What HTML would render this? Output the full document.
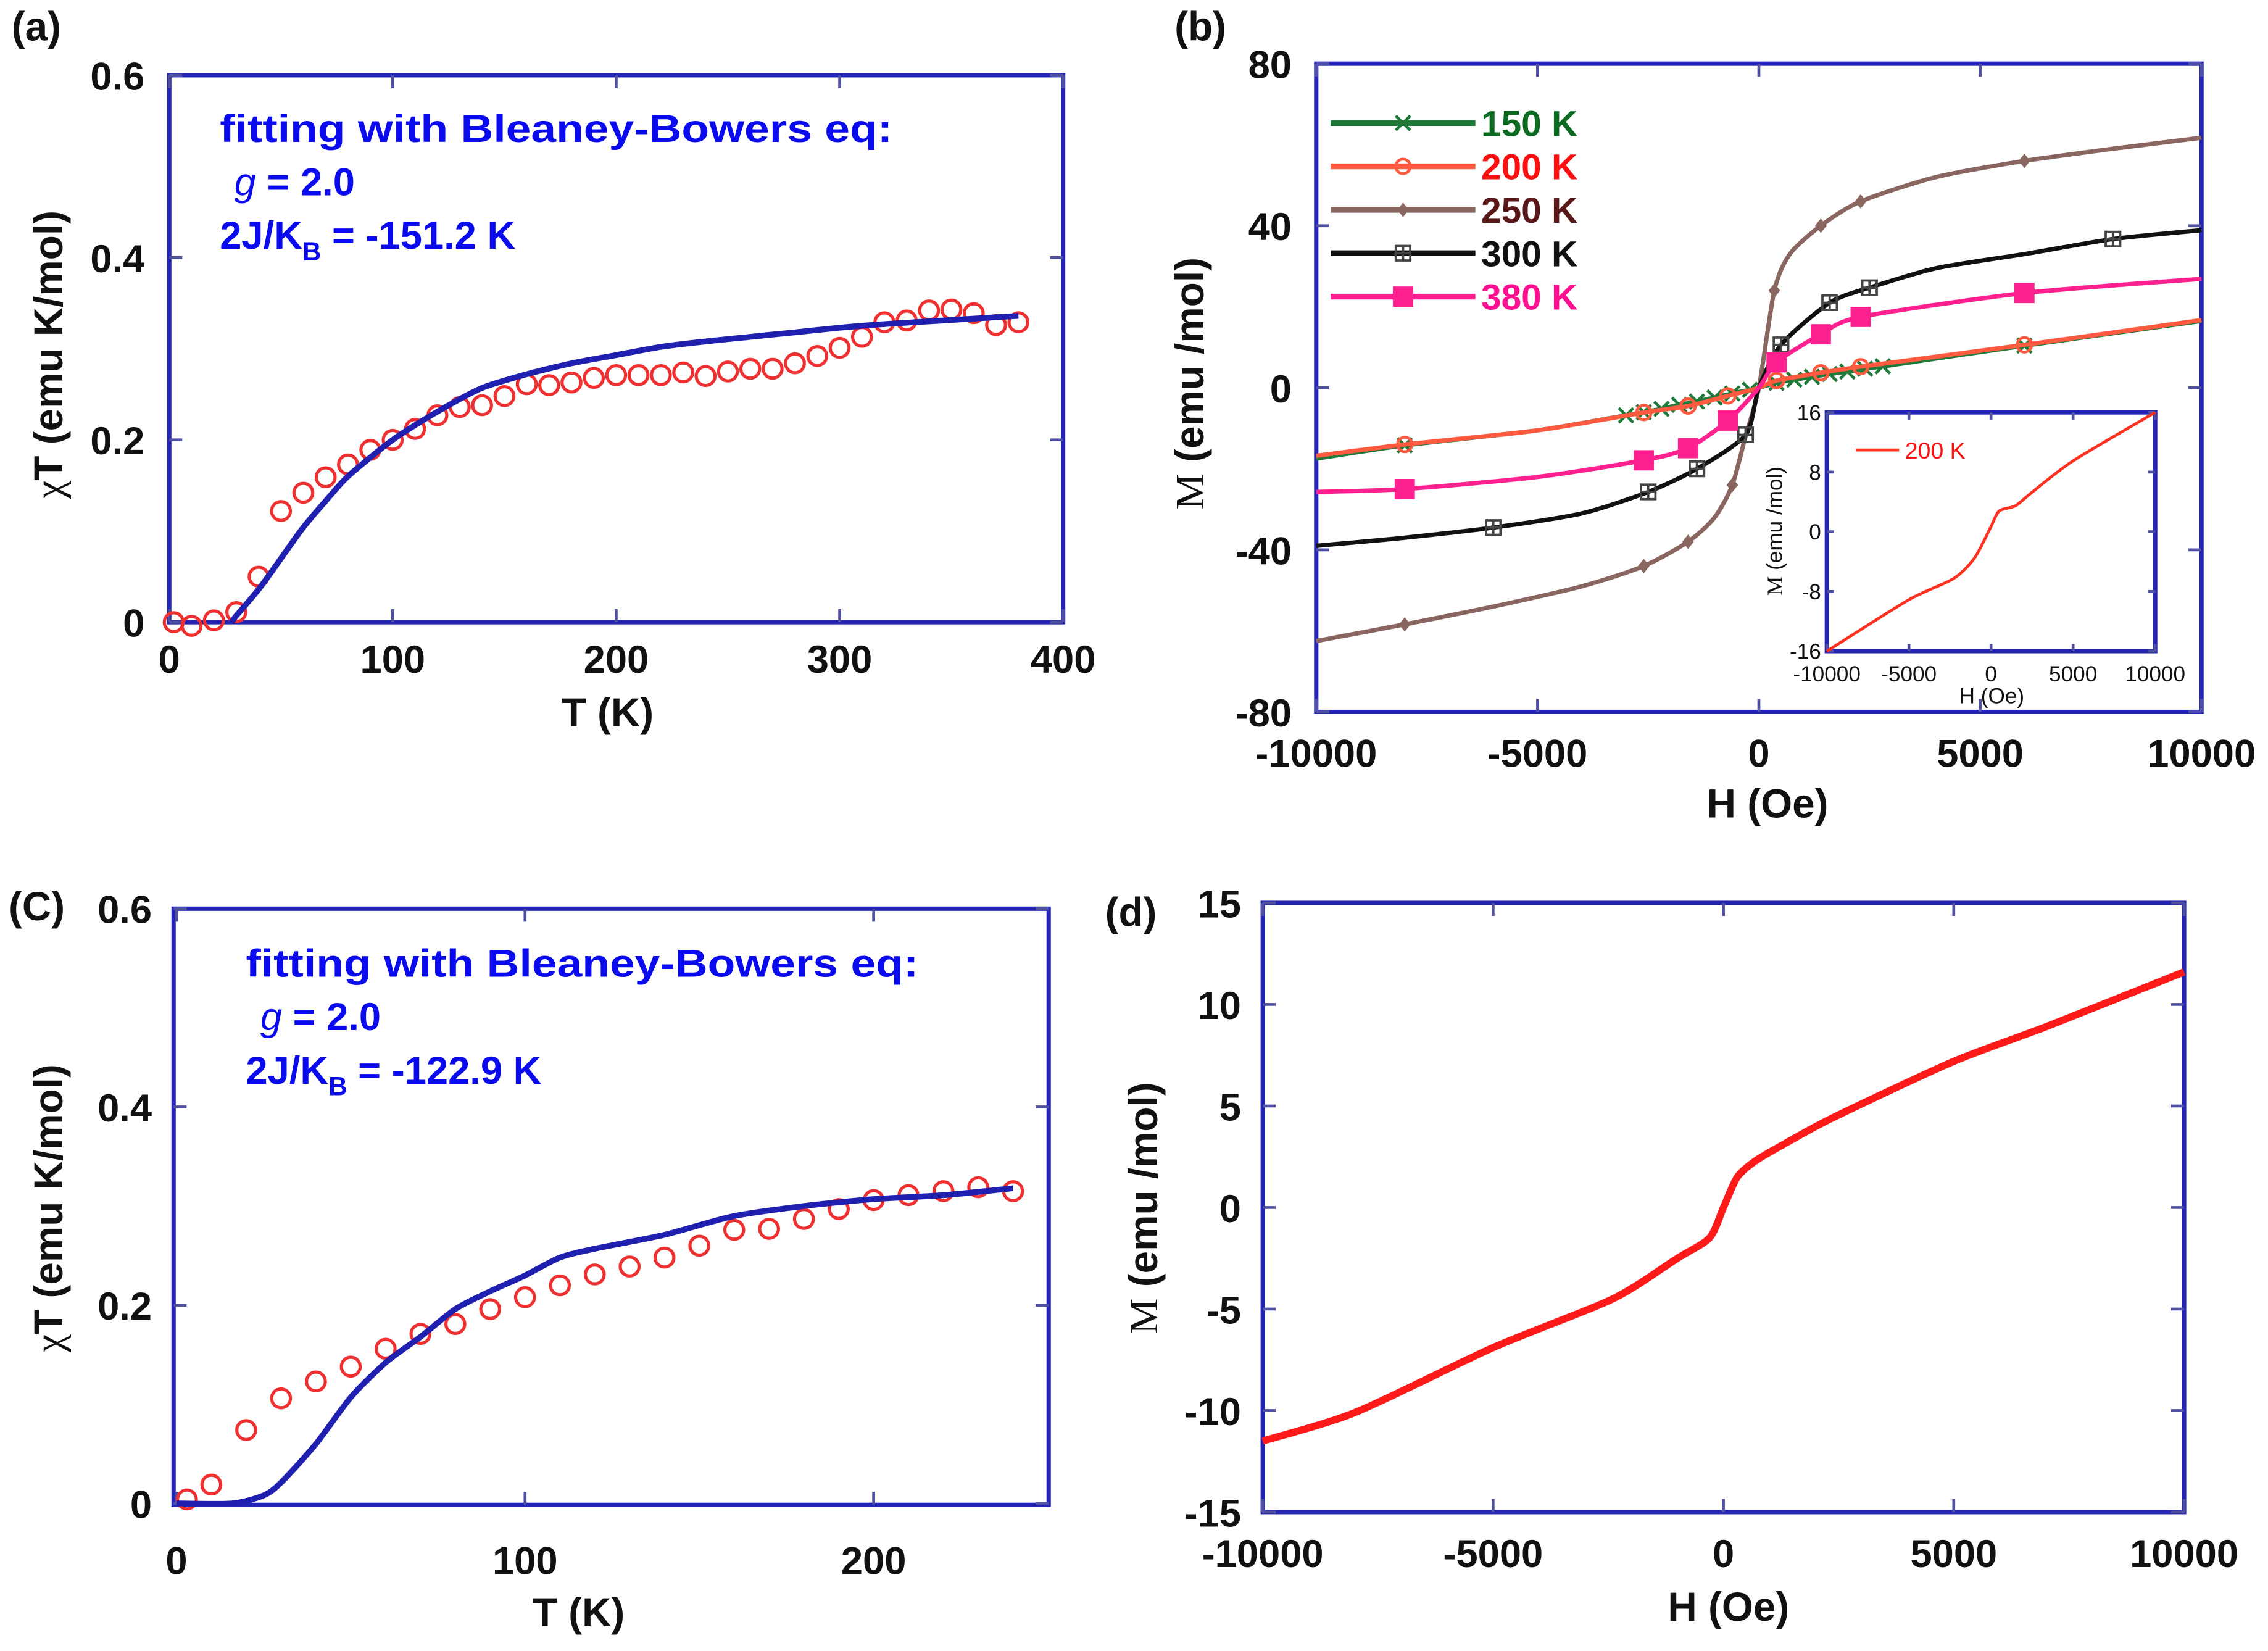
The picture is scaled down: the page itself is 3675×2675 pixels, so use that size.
<!DOCTYPE html>
<html><head><meta charset="utf-8"><style>
html,body{margin:0;padding:0;background:#fff;}
svg{display:block;font-family:"Liberation Sans",sans-serif;}
.t{font-weight:bold;font-size:27px;fill:#111;}
.ax{font-weight:bold;font-size:28px;fill:#111;}
.ann{font-weight:bold;font-size:27px;fill:#0a0aee;}
.box{fill:none;stroke:#2323b4;stroke-width:3;}
.tk{stroke:#5050a0;stroke-width:2;}
</style></head><body>
<svg id="fig" xmlns="http://www.w3.org/2000/svg" width="3675" height="2675" viewBox="0 0 1568 1141" preserveAspectRatio="none">
<g id="pa"></g>
<g id="pb"></g>
<g id="pc"></g>
<g id="pd"></g>
</svg>
<script>
// Panel a data
const aT = [2,10,20,30,40,50,60,70,80,90,100,110,120,130,140,150,160,170,180,190,200,210,220,230,240,250,260,270,280,290,300,310,320,330,340,350,360,370,380];
const aChi = [0,-0.004,0.002,0.011,0.05,0.122,0.142,0.159,0.173,0.189,0.2,0.212,0.227,0.236,0.238,0.248,0.261,0.26,0.263,0.268,0.271,0.271,0.271,0.274,0.27,0.275,0.278,0.278,0.284,0.292,0.301,0.313,0.329,0.331,0.342,0.343,0.339,0.326,0.329];
const aFitT = [28,30,40,50,60,70,80,100,120,140,160,180,200,220,240,260,280,300,320,340,360,380];
const aFit = [0,0.007,0.036,0.07,0.104,0.133,0.16,0.2,0.231,0.257,0.272,0.284,0.293,0.302,0.308,0.313,0.318,0.323,0.327,0.33,0.333,0.336];
const aXTicks = [0,100,200,300,400];
const aYTicks = [0,0.2,0.4,0.6];
// Panel b data
const bH250 = [-10000,-8000,-6000,-4000,-2600,-1600,-1000,-600,-300,0,350,700,1400,2300,4000,6000,8000,10000];
const bM250 = [-62.5,-58.4,-54,-49,-44,-38,-32,-24,-12,0,24,33,40,46,52,56,59,61.7];
const bH300 = [-10000,-8000,-6000,-4000,-2500,-1400,-300,0,500,1600,2500,4000,6000,8000,10000];
const bM300 = [-39,-37,-34.5,-31,-25.7,-20,-11.6,0,10.6,21,24.7,29.5,33,36.7,38.9];
const bH380 = [-10000,-8000,-5000,-2600,-1600,-700,0,400,1400,2300,6000,10000];
const bM380 = [-25.7,-25,-22,-17.9,-14.9,-8.1,0,6.3,13.2,17.5,23.4,26.9];
const bH200 = [-10000,-8000,-5000,-2600,-1600,-700,0,400,1400,2300,6000,10000];
const bM200 = [-16.8,-14,-10.5,-6.1,-4.5,-2,0,1.8,3.7,5.2,10.6,16.7];
const bH150 = [-10000,-8000,-5000,-3000,-2600,-2200,-1800,-1400,-1000,-600,-200,0,400,800,1200,1600,2000,2400,2800,6000,10000];
const bM150 = [-17.5,-14.2,-10.5,-6.8,-6,-5.2,-4.2,-3.4,-2.4,-1.4,-0.5,0,1.2,2,2.7,3.4,4,4.7,5.3,10.4,16.5];
const bMk150 = [-8000,-3000,-2600,-2200,-1800,-1400,-1000,-600,-200,400,800,1200,1600,2000,2400,2800,6000];
const bMk200 = [-8000,-2600,-1600,-700,400,1400,2300,6000];
const bMk250 = [-8000,-2600,-1600,-600,350,1400,2300,6000];
const bMk300 = [-6000,-2500,-1400,-300,500,1600,2500,8000];
const bMk380 = [-8000,-2600,-1600,-700,400,1400,2300,6000];
const bXTicks = [-10000,-5000,0,5000,10000];
const bYTicks = [-80,-40,0,40,80];
const insH = [-10000,-5000,-2300,-1000,0,500,1500,2500,5000,10000];
const insM = [-16,-9.1,-6.3,-3.5,0.7,2.8,3.5,5.3,9.5,16];
const insXTicks = [-10000,-5000,0,5000,10000];
const insYTicks = [-16,-8,0,8,16];
// Panel c data
const cT = [3,10,20,30,40,50,60,70,80,90,100,110,120,130,140,150,160,170,180,190,200,210,220,230,240];
const cChi = [0.004,0.019,0.074,0.106,0.123,0.138,0.156,0.171,0.181,0.196,0.208,0.22,0.231,0.239,0.248,0.26,0.276,0.277,0.287,0.297,0.306,0.311,0.315,0.319,0.315];
const cFitT = [0,16,25,30,40,50,60,70,80,90,100,110,120,140,160,180,200,220,240];
const cFit = [0,0,0.008,0.021,0.06,0.107,0.142,0.168,0.196,0.214,0.23,0.248,0.257,0.271,0.29,0.3,0.307,0.311,0.318];
const cXTicks = [0,100,200];
const cYTicks = [0,0.2,0.4,0.6];
// Panel d data
const dH = [-10000,-8000,-5000,-2400,-1000,-300,0,300,700,1300,2400,5000,7000,10000];
const dM = [-11.5,-10.1,-6.9,-4.5,-2.5,-1.5,0,1.5,2.3,3.1,4.45,7.2,8.9,11.6];
const dXTicks = [-10000,-5000,0,5000,10000];
const dYTicks = [-15,-10,-5,0,5,10,15];

const NS='http://www.w3.org/2000/svg';
function mk(parent, tag, attrs, text){
  const e=document.createElementNS(NS,tag);
  for(const k in attrs) e.setAttribute(k,attrs[k]);
  if(text!==undefined) e.textContent=text;
  parent.appendChild(e); return e;
}
function lin(d0,d1,p0,p1){return v=>p0+(v-d0)*(p1-p0)/(d1-d0);}
function pathD(xs,ys,sx,sy){return xs.map((x,i)=>(i?'L':'M')+sx(x).toFixed(1)+' '+sy(ys[i]).toFixed(1)).join(' ');}
function smoothD(xs,ys,sx,sy){
  const P=xs.map((x,i)=>[sx(x),sy(ys[i])]);
  let d='M'+P[0][0].toFixed(1)+' '+P[0][1].toFixed(1);
  for(let i=0;i<P.length-1;i++){
    const p0=P[Math.max(0,i-1)],p1=P[i],p2=P[i+1],p3=P[Math.min(P.length-1,i+2)];
    const t=1/8;
    const c1=[p1[0]+(p2[0]-p0[0])*t,p1[1]+(p2[1]-p0[1])*t];
    const c2=[p2[0]-(p3[0]-p1[0])*t,p2[1]-(p3[1]-p1[1])*t];
    d+=' C'+c1.map(v=>v.toFixed(1)).join(' ')+' '+c2.map(v=>v.toFixed(1)).join(' ')+' '+p2[0].toFixed(1)+' '+p2[1].toFixed(1);
  }
  return d;
}
function interp(xs,ys,x){for(let i=0;i<xs.length-1;i++){if(x>=xs[i]&&x<=xs[i+1]){return ys[i]+(ys[i+1]-ys[i])*(x-xs[i])/(xs[i+1]-xs[i]);}}return ys[ys.length-1];}

function frame(g,x0,x1,y0,y1,sx,sy,xt,yt,tl,opt){
  const r=mk(g,'rect',{x:x0,y:y0,width:x1-x0,height:y1-y0,class:'box'});
  
  
  const L=opt.tick||9;
  xt.forEach(v=>{const x=sx(v);
    const a=mk(g,'line',{x1:x,x2:x,y1:y1,y2:y1-L,class:'tk'});
    
    
    const b=mk(g,'line',{x1:x,x2:x,y1:y0,y2:y0+L,class:'tk'});
    
    
    const t=mk(g,'text',{x:x,y:opt.xly,'text-anchor':'middle',class:opt.cls||'t',style:opt.fs?'font-size:'+opt.fs+'px':''},String(v));
    
    
  });
  yt.forEach(v=>{const y=sy(v);
    const a=mk(g,'line',{x1:x0,x2:x0+L,y1:y,y2:y,class:'tk'});
    
    
    const b=mk(g,'line',{x1:x1,x2:x1-L,y1:y,y2:y,class:'tk'});
    
    
    const t=mk(g,'text',{x:opt.ylx,y:y+(opt.fs?opt.fs*0.36:10),'text-anchor':'end',class:opt.cls||'t',style:opt.fs?'font-size:'+opt.fs+'px':''},String(v));
    
    
  });
}
function circ(g,xs,ys,sx,sy){
  xs.forEach((x,i)=>{const c=mk(g,'circle',{cx:sx(x),cy:sy(ys[i]),r:6.5,fill:'none',stroke:'#f03030','stroke-width':2.2});
    
    });
}
function ttl(g,x,y,txt,rot,name){
  const t=mk(g,'text',{x:x,y:y,'text-anchor':'middle',class:'ax',transform:rot?('rotate(-90 '+x+' '+y+')'):''});
  t.innerHTML=txt;
  
  
  return t;
}
function ann(g,x,y,J){
  const t1=mk(g,'text',{x:x,y:y,class:'ann',textLength:465,lengthAdjust:'spacingAndGlyphs'},'fitting with Bleaney-Bowers eq:');
  
  
  const t2=mk(g,'text',{x:x+10,y:y+37,class:'ann'});
  t2.innerHTML='<tspan font-style="italic" font-weight="normal">g</tspan> = 2.0';
  
  
  const t3=mk(g,'text',{x:x,y:y+74,class:'ann'});
  t3.innerHTML='2J/K<tspan dy="8" font-size="18">B</tspan><tspan dy="-8"> = '+J+'</tspan>';
  
  
}
function lbl(g,x,y,t,name){const e=mk(g,'text',{x:x,y:y,class:'ax','font-size':'26'},t);
  
  }

// ---------- Panel a
(function(){
  const g=document.getElementById('pa');
  const sx=lin(0,400,117,735), sy=lin(0,0.6,430,52);
  frame(g,117,735,52,430,sx,sy,aXTicks,aYTicks,null,{xly:465,ylx:100});
  lbl(g,8,28,'(a)','panel-label-a');
  ttl(g,420,502,'T (K)',false,'x-axis-title');
  ttl(g,43,245,'<tspan font-family="Liberation Serif" font-weight="normal">χ</tspan>T (emu K/mol)',true,'y-axis-title');
  ann(g,152,98,'-151.2 K');
  circ(g,aT,aChi,sx,sy);
  const p=mk(g,'path',{d:smoothD(aFitT,aFit,sx,sy),fill:'none',stroke:'#2020b0','stroke-width':4});
  
  
})();

// ---------- Panel b
(function(){
  const g=document.getElementById('pb');
  const sx=lin(-10000,10000,910,1522), sy=lin(-80,80,492,44);
  frame(g,910,1522,44,492,sx,sy,bXTicks,bYTicks,null,{xly:530,ylx:893});
  lbl(g,812,28,'(b)','panel-label-b');
  ttl(g,1222,565,'H (Oe)',false,'x-axis-title');
  ttl(g,832,265,'<tspan font-family="Liberation Serif" font-weight="normal">M</tspan> (emu /mol)',true,'y-axis-title');
  const series=[
    {H:bH150,M:bM150,mk:bMk150,c:'#1f7a3a',m:'x',tc:'#0b6a20',lab:'150 K'},
    {H:bH200,M:bM200,mk:bMk200,c:'#ff5a40',m:'o',tc:'#ff1010',lab:'200 K'},
    {H:bH250,M:bM250,mk:bMk250,c:'#8a6660',m:'d',tc:'#5a1818',lab:'250 K'},
    {H:bH300,M:bM300,mk:bMk300,c:'#111',m:'s',tc:'#111',lab:'300 K'},
    {H:bH380,M:bM380,mk:bMk380,c:'#ff2090',m:'f',tc:'#ff1090',lab:'380 K'}];
  function marker(x,y,s){
    let e;
    if(s.m==='x'){e=mk(g,'path',{d:`M${x-5} ${y-5}L${x+5} ${y+5}M${x-5} ${y+5}L${x+5} ${y-5}`,stroke:s.c,'stroke-width':2,fill:'none'});}
    else if(s.m==='o'){e=mk(g,'circle',{cx:x,cy:y,r:5,fill:'none',stroke:s.c,'stroke-width':2});}
    else if(s.m==='d'){e=mk(g,'path',{d:`M${x} ${y-5}L${x+4} ${y}L${x} ${y+5}L${x-4} ${y}Z`,fill:s.c});}
    else if(s.m==='s'){e=mk(g,'path',{d:`M${x-5} ${y-5}h10v10h-10zM${x-5} ${y}h10M${x} ${y-5}v10`,stroke:'#444','stroke-width':1.6,fill:'none'});}
    else {e=mk(g,'rect',{x:x-7,y:y-7,width:14,height:14,fill:s.c});}
    
    
  }
  series.forEach((s,i)=>{
    const p=mk(g,'path',{d:smoothD(s.H,s.M,sx,sy),fill:'none',stroke:s.c,'stroke-width':3});
    
    
    s.mk.forEach(h=>marker(sx(h),sy(interp(s.H,s.M,h)),s));
    const ly=85+i*30;
    const l=mk(g,'line',{x1:920,x2:1020,y1:ly,y2:ly,stroke:s.c,'stroke-width':4});
    
    
    marker(970,ly,s);
    const t=mk(g,'text',{x:1024,y:ly+9,class:'ax',style:'fill:'+s.tc+';font-size:25px'},s.lab);
    
    
  });
  // inset
  const ig=mk(g,'g',{});
  
  
  mk(ig,'rect',{x:1263,y:285,width:227,height:165,fill:'#fff'});
  const ix=lin(-10000,10000,1263,1490), iy=lin(-16,16,450,285);
  frame(ig,1263,1490,285,450,ix,iy,insXTicks,insYTicks,null,{xly:471,ylx:1259,fs:15,cls:'in',tick:5});
  ig.querySelectorAll('text').forEach(t=>{t.setAttribute('fill','#111');});
  const ip=mk(ig,'path',{d:smoothD(insH,insM,ix,iy),fill:'none',stroke:'#ff3020','stroke-width':2});
  
  
  const il=mk(ig,'line',{x1:1283,x2:1313,y1:311,y2:311,stroke:'#ff3020','stroke-width':2});
  
  
  const it=mk(ig,'text',{x:1317,y:317,'font-size':'16',fill:'#ff1010'},'200 K');
  
  
  const ixt=mk(ig,'text',{x:1377,y:486,'font-size':'15','text-anchor':'middle',fill:'#111'},'H (Oe)');
  
  
  const iyt=mk(ig,'text',{x:1232,y:367,'font-size':'15','text-anchor':'middle',fill:'#111',transform:'rotate(-90 1232 367)'});
  iyt.innerHTML='<tspan font-family="Liberation Serif">M</tspan> (emu /mol)';
  
  
})();

// ---------- Panel c
(function(){
  const g=document.getElementById('pc');
  const sx=lin(0,100,122,363), sy=lin(0,0.6,1039,628);
  frame(g,120,725,628,1040,sx,sy,cXTicks,cYTicks,null,{xly:1088,ylx:105});
  lbl(g,6,636,'(C)','panel-label-c');
  ttl(g,400,1124,'T (K)',false,'x-axis-title');
  ttl(g,43,835,'<tspan font-family="Liberation Serif" font-weight="normal">χ</tspan>T (emu K/mol)',true,'y-axis-title');
  ann(g,170,675,'-122.9 K');
  circ(g,cT,cChi,sx,sy);
  const p=mk(g,'path',{d:smoothD(cFitT,cFit,sx,sy),fill:'none',stroke:'#2020b0','stroke-width':4});
  
  
})();

// ---------- Panel d
(function(){
  const g=document.getElementById('pd');
  const sx=lin(-10000,10000,873,1510), sy=lin(-15,15,1045,624);
  frame(g,873,1510,624,1045,sx,sy,dXTicks,dYTicks,null,{xly:1083,ylx:858});
  lbl(g,764,640,'(d)','panel-label-d');
  ttl(g,1195,1120,'H (Oe)',false,'x-axis-title');
  ttl(g,800,835,'<tspan font-family="Liberation Serif" font-weight="normal">M</tspan> (emu /mol)',true,'y-axis-title');
  const p=mk(g,'path',{d:smoothD(dH,dM,sx,sy),fill:'none',stroke:'#ff1a1a','stroke-width':5});
  
  
})();
</script>
</body></html>
